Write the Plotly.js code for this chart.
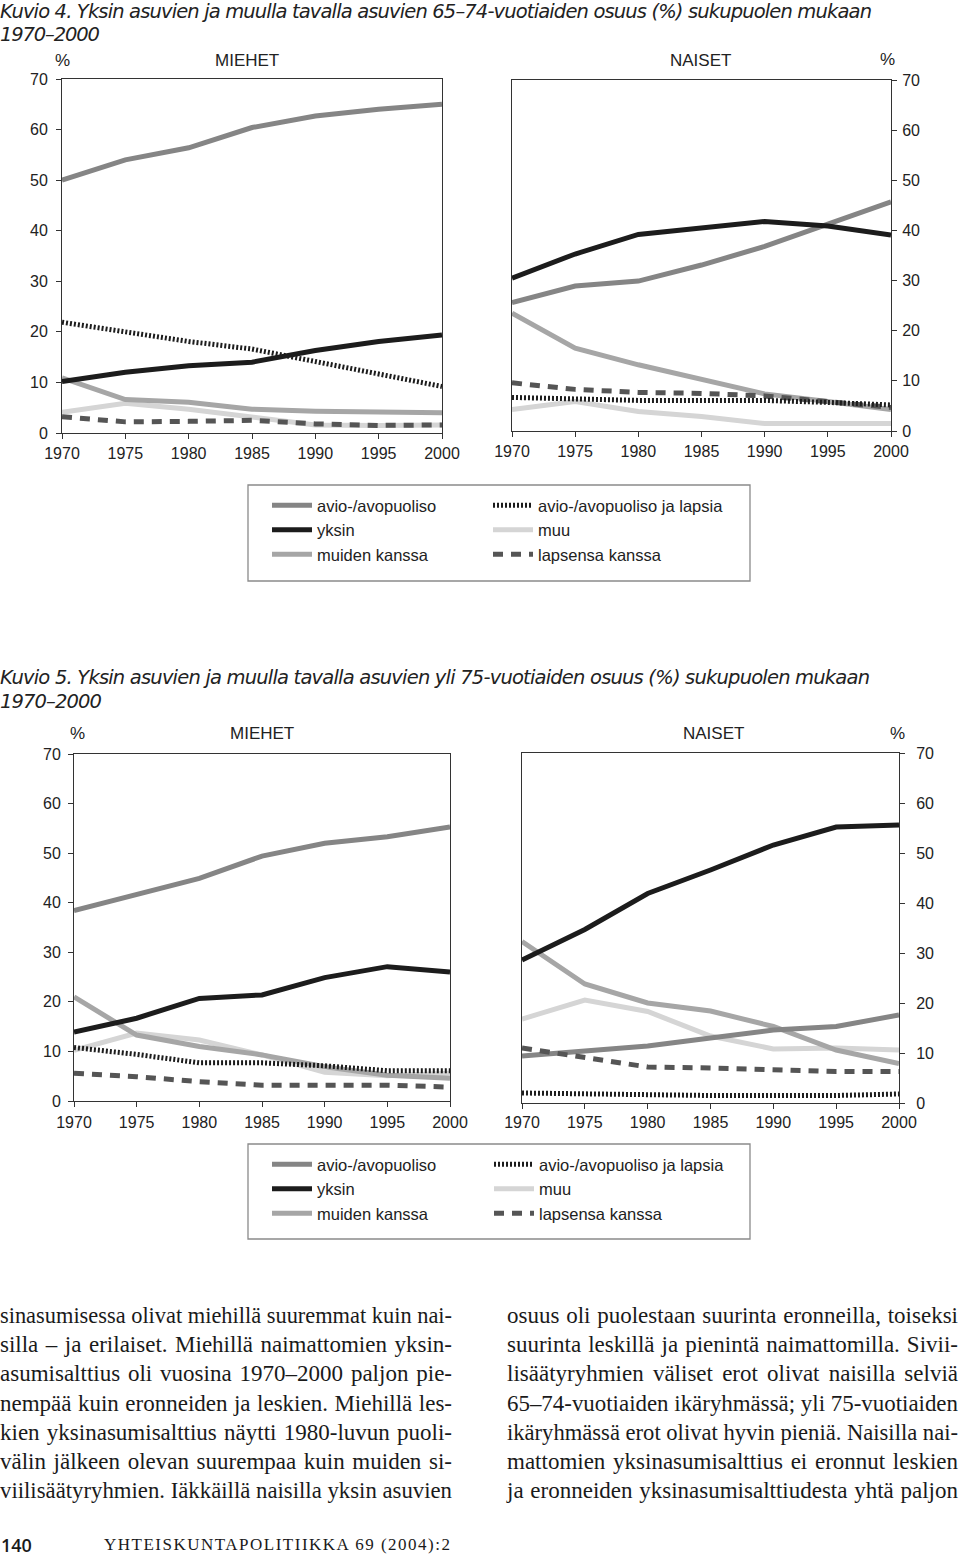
<!DOCTYPE html>
<html>
<head>
<meta charset="utf-8">
<script src="https://cdn.plot.ly/plotly-3.0.1.min.js"></script>
<style>
html,body{margin:0;padding:0;background:#fff;}
#page{position:relative;width:960px;height:1563px;overflow:hidden;background:#fff;}
#chart{position:absolute;left:0;top:0;width:960px;height:1563px;}
.ln{position:absolute;white-space:nowrap;font-family:"Liberation Serif","Times New Roman",serif;line-height:1;color:#1a1a1a;transform-origin:0 0;}
.ttl{position:absolute;left:0;white-space:nowrap;font-family:"DejaVu Sans",sans-serif;font-style:italic;font-size:19.5px;line-height:normal;color:#222;}
</style>
</head>
<body>
<div id="page"><div id="chart"></div></div>
<script>
// ---------- DATA ----------
const years = [1970, 1975, 1980, 1985, 1990, 1995, 2000];
const seriesNames = ['avio-/avopuoliso', 'yksin', 'muiden kanssa', 'avio-/avopuoliso ja lapsia', 'muu', 'lapsensa kanssa'];

// Kuvio 4: 65–74-vuotiaat, miehet
const m65_avio       = [50.0, 54.0, 56.4, 60.4, 62.7, 64.0, 65.0];
const m65_yksin      = [10.2, 12.0, 13.3, 14.0, 16.3, 18.1, 19.4];
const m65_muiden     = [10.9, 6.6, 6.1, 4.7, 4.3, 4.2, 4.0];
const m65_aviolapsia = [21.9, 20.1, 18.1, 16.6, 14.2, 11.7, 9.2];
const m65_muu        = [4.1, 5.9, 4.7, 3.1, 1.6, 1.5, 1.6];
const m65_lapsensa   = [3.2, 2.2, 2.3, 2.5, 1.8, 1.5, 1.6];
// Kuvio 4: 65–74-vuotiaat, naiset
const n65_avio       = [25.6, 28.9, 29.9, 33.1, 36.8, 41.3, 45.7];
const n65_yksin      = [30.5, 35.3, 39.2, 40.6, 41.8, 40.9, 39.1];
const n65_muiden     = [23.5, 16.5, 13.2, 10.2, 7.4, 5.9, 4.3];
const n65_aviolapsia = [6.7, 6.3, 6.1, 6.1, 6.1, 5.7, 5.2];
const n65_muu        = [4.3, 5.9, 3.9, 2.9, 1.5, 1.5, 1.5];
const n65_lapsensa   = [9.6, 8.3, 7.7, 7.5, 7.0, 5.9, 4.7];
// Kuvio 5: yli 75-vuotiaat, miehet
const m75_avio       = [38.4, 41.6, 44.9, 49.4, 52.0, 53.3, 55.3];
const m75_yksin      = [13.9, 16.7, 20.7, 21.4, 24.9, 27.1, 26.0];
const m75_muiden     = [21.0, 13.3, 11.0, 9.3, 6.9, 5.2, 4.6];
const m75_aviolapsia = [10.8, 9.4, 7.7, 7.7, 7.1, 6.1, 6.1];
const m75_muu        = [10.2, 13.7, 12.3, 9.3, 5.8, 5.1, 5.6];
const m75_lapsensa   = [5.6, 4.9, 3.9, 3.2, 3.2, 3.2, 2.8];
// Kuvio 5: yli 75-vuotiaat, naiset
const n75_avio       = [9.4, 10.3, 11.4, 13.0, 14.6, 15.3, 17.6];
const n75_yksin      = [28.6, 34.7, 41.9, 46.6, 51.6, 55.2, 55.6];
const n75_muiden     = [32.3, 23.8, 20.0, 18.4, 15.3, 10.6, 7.9];
const n75_aviolapsia = [2.0, 1.8, 1.5, 1.5, 1.5, 1.5, 1.8];
const n75_muu        = [16.8, 20.6, 18.3, 13.4, 10.8, 11.0, 10.6];
const n75_lapsensa   = [11.0, 9.2, 7.2, 7.0, 6.7, 6.3, 6.3];

const yTicks = [0, 10, 20, 30, 40, 50, 60, 70];

const titleK4 = 'Kuvio 4. Yksin asuvien ja muulla tavalla asuvien 65–74-vuotiaiden osuus (%) sukupuolen mukaan';
const titleK5 = 'Kuvio 5. Yksin asuvien ja muulla tavalla asuvien yli 75-vuotiaiden osuus (%) sukupuolen mukaan';
const subTitle = '1970–2000';

const leftLines = [
 'sinasumisessa olivat miehillä suuremmat kuin nai-',
 'silla – ja erilaiset. Miehillä naimattomien yksin-',
 'asumisalttius oli vuosina 1970–2000 paljon pie-',
 'nempää kuin eronneiden ja leskien. Miehillä les-',
 'kien yksinasumisalttius näytti 1980-luvun puoli-',
 'välin jälkeen olevan suurempaa kuin muiden si-',
 'viilisäätyryhmien. Iäkkäillä naisilla yksin asuvien'
];
const rightLines = [
 'osuus oli puolestaan suurinta eronneilla, toiseksi',
 'suurinta leskillä ja pienintä naimattomilla. Sivii-',
 'lisäätyryhmien väliset erot olivat naisilla selviä',
 '65–74-vuotiaiden ikäryhmässä; yli 75-vuotiaiden',
 'ikäryhmässä erot olivat hyvin pieniä. Naisilla nai-',
 'mattomien yksinasumisalttius ei eronnut leskien',
 'ja eronneiden yksinasumisalttiudesta yhtä paljon'
];

// ---------- STYLE ----------
const W = 960, H = 1563;
const px = v => v / W;
const py = v => 1 - v / H;
const sty = {
  avio:       {color: '#858585', width: 5, dash: 'solid', rank: 1},
  yksin:      {color: '#1c1c1c', width: 5, dash: 'solid', rank: 2},
  muiden:     {color: '#a6a6a6', width: 5, dash: 'solid', rank: 3},
  aviolapsia: {color: '#1c1c1c', width: 5, dash: '2px,2px', rank: 1},
  muu:        {color: '#d5d5d5', width: 5, dash: 'solid', rank: 2},
  lapsensa:   {color: '#555555', width: 5, dash: '10px,8px', rank: 3}
};
const nameIdx = {avio: 0, yksin: 1, muiden: 2, aviolapsia: 3, muu: 4, lapsensa: 5};
const leftCol = ['avio', 'yksin', 'muiden'];

const panels = [
  {xa: 'x',  ya: 'y',  legs: ['legend', 'legend2'], show: true,
   d: {avio: m65_avio, yksin: m65_yksin, muiden: m65_muiden, aviolapsia: m65_aviolapsia, muu: m65_muu, lapsensa: m65_lapsensa}},
  {xa: 'x2', ya: 'y2', legs: null, show: false,
   d: {avio: n65_avio, yksin: n65_yksin, muiden: n65_muiden, aviolapsia: n65_aviolapsia, muu: n65_muu, lapsensa: n65_lapsensa}},
  {xa: 'x3', ya: 'y3', legs: ['legend3', 'legend4'], show: true,
   d: {avio: m75_avio, yksin: m75_yksin, muiden: m75_muiden, aviolapsia: m75_aviolapsia, muu: m75_muu, lapsensa: m75_lapsensa}},
  {xa: 'x4', ya: 'y4', legs: null, show: false,
   d: {avio: n75_avio, yksin: n75_yksin, muiden: n75_muiden, aviolapsia: n75_aviolapsia, muu: n75_muu, lapsensa: n75_lapsensa}}
];
const drawOrder = ['muu', 'muiden', 'avio', 'lapsensa', 'aviolapsia', 'yksin'];

const traces = [];
panels.forEach(p => {
  drawOrder.forEach(k => {
    const s = sty[k];
    const t = {
      type: 'scatter', mode: 'lines', x: years, y: p.d[k],
      xaxis: p.xa, yaxis: p.ya, name: seriesNames[nameIdx[k]],
      line: {color: s.color, width: s.width, dash: s.dash},
      showlegend: p.show, legendrank: s.rank, hoverinfo: 'x+y+name'
    };
    if (p.show) t.legend = leftCol.includes(k) ? p.legs[0] : p.legs[1];
    traces.push(t);
  });
});

const tickFont = {family: 'Liberation Sans, Arial, sans-serif', size: 16, color: '#222'};
function xax(l, r, anchor, standoff) {
  return {domain: [px(l), px(r)], anchor: anchor, range: [1970, 2000],
    tickmode: 'array', tickvals: years, ticktext: years.map(String),
    showline: true, mirror: true, linecolor: '#333', linewidth: 1,
    ticks: 'outside', ticklen: 5, tickwidth: 1, tickcolor: '#333',
    ticklabelstandoff: standoff,
    showgrid: false, zeroline: false, fixedrange: true, tickfont: tickFont};
}
function yax(t, b, anchor, side, standoff) {
  return {domain: [py(b), py(t)], anchor: anchor, range: [0, 70], side: side,
    tickmode: 'array', tickvals: yTicks,
    showline: true, mirror: true, linecolor: '#333', linewidth: 1,
    ticks: 'outside', ticklen: 5, tickwidth: 1, tickcolor: '#333',
    ticklabelstandoff: standoff,
    showgrid: false, zeroline: false, fixedrange: true, tickfont: tickFont};
}

const sans = 'Liberation Sans, Arial, sans-serif';
function ann(text, x, y, xanchor, size) {
  return {text: text, xref: 'paper', yref: 'paper', x: px(x), y: py(y),
    xanchor: xanchor, yanchor: 'middle', showarrow: false,
    font: {family: sans, size: size, color: '#222'}};
}

const legendBase = {
  orientation: 'v', xanchor: 'left', yanchor: 'top', bgcolor: 'rgba(0,0,0,0)',
  borderwidth: 0, itemwidth: 40, tracegroupgap: 0, traceorder: 'normal',
  font: {family: sans, size: 16.5, color: '#222'}, itemclick: false, itemdoubleclick: false
};

const layout = {
  width: W, height: H, margin: {l: 0, r: 0, t: 0, b: 0, pad: 0},
  paper_bgcolor: '#fff', plot_bgcolor: '#fff', showlegend: true, hovermode: 'closest',
  xaxis: xax(62, 442, 'y', 1),   yaxis: yax(79, 433, 'x', 'left', 5),
  xaxis2: xax(512, 891, 'y2', 1), yaxis2: yax(80, 431, 'x2', 'right', 2),
  xaxis3: xax(74, 450, 'y3', 2),  yaxis3: yax(754, 1101, 'x3', 'left', 4),
  xaxis4: xax(522, 899, 'y4', 0), yaxis4: yax(753, 1103, 'x4', 'right', 8),
  legend:  Object.assign({}, legendBase, {x: px(267), y: py(488)}),
  legend2: Object.assign({}, legendBase, {x: px(488), y: py(488)}),
  legend3: Object.assign({}, legendBase, {x: px(267), y: py(1147)}),
  legend4: Object.assign({}, legendBase, {x: px(489), y: py(1147)}),
  shapes: [
    {type: 'rect', xref: 'paper', yref: 'paper', x0: px(248), x1: px(750), y0: py(485), y1: py(581),
     line: {color: '#8a8a8a', width: 1.3}, fillcolor: 'rgba(0,0,0,0)'},
    {type: 'rect', xref: 'paper', yref: 'paper', x0: px(248), x1: px(750), y0: py(1144), y1: py(1239),
     line: {color: '#8a8a8a', width: 1.3}, fillcolor: 'rgba(0,0,0,0)'}
  ],
  annotations: [
    ann('%', 62, 61, 'center', 17),
    ann('MIEHET', 247, 61, 'center', 17),
    ann('NAISET', 700, 61, 'center', 17),
    ann('%', 887, 60, 'center', 17),
    ann('%', 77, 733, 'center', 17),
    ann('MIEHET', 262, 733, 'center', 17),
    ann('NAISET', 713, 733, 'center', 17),
    ann('%', 897, 733, 'center', 17)
  ]
};

Plotly.newPlot('chart', traces, layout, {displayModeBar: false, responsive: false});

// ---------- TITLES & BODY TEXT ----------
const page = document.getElementById('page');
function placeTitle(text, baseline, targetW) {
  const d = document.createElement('div');
  d.className = 'ttl';
  d.textContent = text;
  d.style.top = (baseline - 0.928 * 19.5) + 'px';
  page.appendChild(d);
  const w = d.getBoundingClientRect().width;
  const ls = (targetW - w) / (text.length - 1);
  if (Math.abs(ls) < 1.5) d.style.letterSpacing = ls + 'px';
}
placeTitle(titleK4, 18.4, 872);
placeTitle(subTitle, 41.2, 100);
placeTitle(titleK5, 684, 870);
placeTitle(subTitle, 708, 102);

function placeLine(text, left, width, baseline, fs) {
  const d = document.createElement('div');
  d.className = 'ln';
  d.textContent = text;
  d.style.fontSize = fs + 'px';
  d.style.left = left + 'px';
  d.style.top = (baseline - 0.8375 * fs) + 'px';
  page.appendChild(d);
  const w = d.getBoundingClientRect().width;
  const spaces = (text.match(/ /g) || []).length;
  if (w < width && spaces > 0) d.style.wordSpacing = ((width - w) / spaces) + 'px';
  else if (w > width) d.style.transform = 'scaleX(' + (width / w) + ')';
}
const baselines = [1323, 1352, 1381, 1411, 1440, 1469, 1498];
leftLines.forEach((t, i) => placeLine(t, 0, 452, baselines[i], 23));
rightLines.forEach((t, i) => placeLine(t, 507, 451, baselines[i], 23));

// footer
const pg = document.createElement('div');
pg.textContent = '140';
pg.style.cssText = 'position:absolute;left:1px;top:1533px;font-family:"Open Sans",sans-serif;font-weight:600;font-size:18px;line-height:24px;color:#1a1a1a;';
page.appendChild(pg);
const jn = document.createElement('div');
jn.textContent = 'YHTEISKUNTAPOLITIIKKA 69 (2004):2';
jn.style.cssText = 'position:absolute;left:104px;top:1534px;font-family:"Liberation Serif",serif;font-size:17px;line-height:22px;color:#1a1a1a;white-space:nowrap;';
page.appendChild(jn);
(function(){
  const w = jn.getBoundingClientRect().width;
  const n = jn.textContent.length;
  jn.style.letterSpacing = ((346 - w) / (n - 1)) + 'px';
})();
</script>
</body>
</html>
